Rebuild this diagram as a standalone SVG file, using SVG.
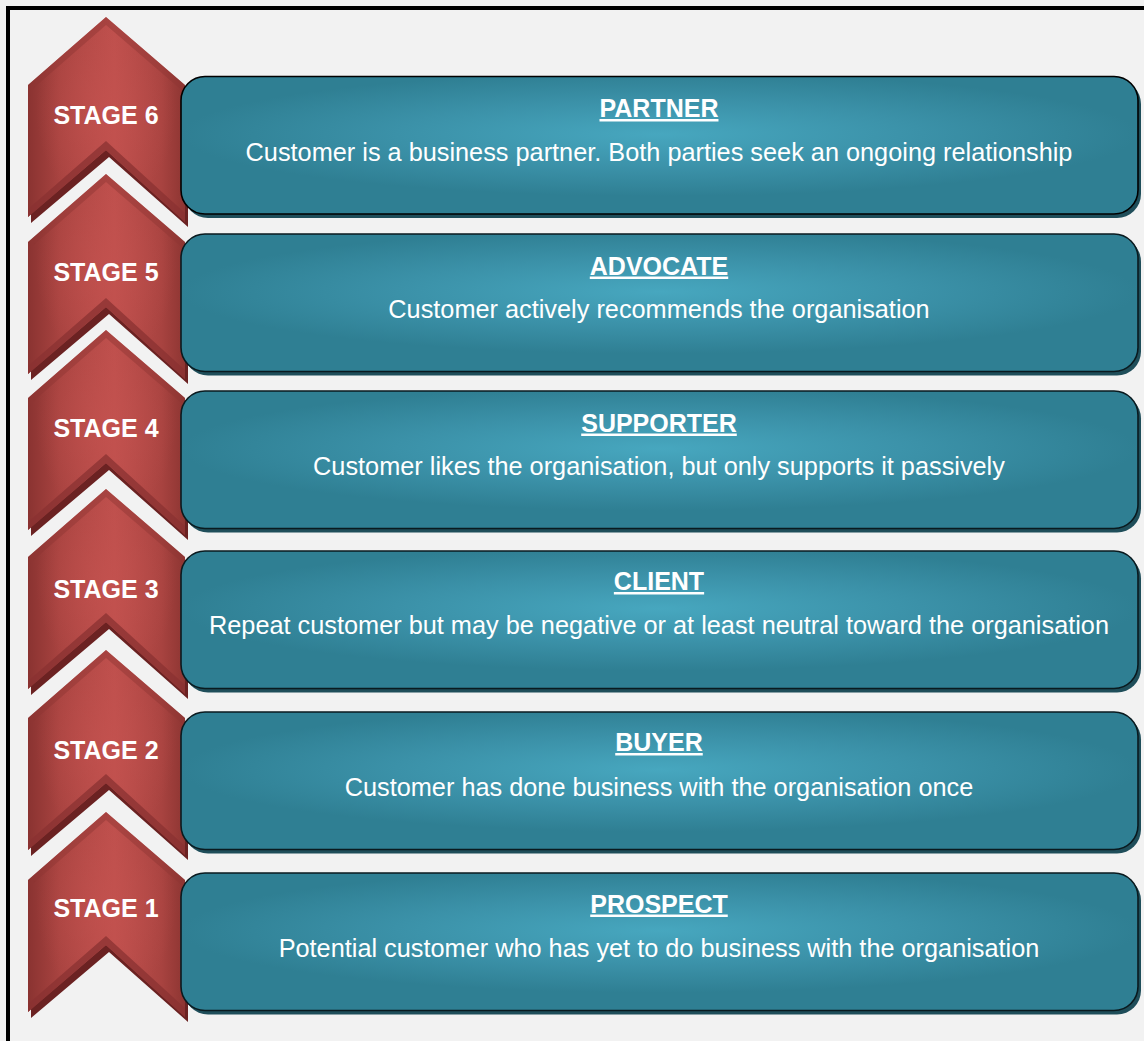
<svg xmlns="http://www.w3.org/2000/svg" width="1144" height="1041" viewBox="0 0 1144 1041">
<defs>
<linearGradient id="chevH" x1="28" y1="0" x2="185" y2="0" gradientUnits="userSpaceOnUse">
<stop offset="0" stop-color="#8a3331"/>
<stop offset="0.2" stop-color="#a84340"/>
<stop offset="0.55" stop-color="#bf504d"/>
<stop offset="0.85" stop-color="#a84340"/>
<stop offset="1" stop-color="#8d3532"/>
</linearGradient>
<radialGradient id="chevR" cx="106" cy="110" r="70" gradientUnits="userSpaceOnUse" gradientTransform="translate(106 110) scale(1 1.4) translate(-106 -110)">
<stop offset="0" stop-color="#c4524f" stop-opacity="0.7"/>
<stop offset="1" stop-color="#c4524f" stop-opacity="0"/>
</radialGradient>
<radialGradient id="boxG" cx="0.5" cy="0.42" r="0.5" gradientTransform="translate(0.5 0.42) scale(1 0.9) translate(-0.5 -0.42)">
<stop offset="0" stop-color="#47a7bf"/>
<stop offset="0.55" stop-color="#3b91a8"/>
<stop offset="1" stop-color="#2f7f93"/>
</radialGradient>
<g id="chev">
<polygon points="31,90 109,22 188,90 188,227 109,157 31,223" fill="#6b2222"/>
<polygon points="28,85 106,17 185,85 185,222 106,150 28,217" fill="url(#chevH)"/>
<polygon points="28,85 106,17 185,85 185,222 106,150 28,217" fill="url(#chevR)"/>
<polygon points="28,85 106,17 185,85 185,93 106,25 28,93" fill="#8e3634" opacity="0.45"/>
<polygon points="28,209 106,141 185,213 185,222 106,150 28,217" fill="#8a3231" opacity="0.75"/>
</g>
<style>
.st{font-family:"Liberation Sans",Arial,sans-serif;font-weight:bold;font-size:25px;fill:#ffffff;text-anchor:middle}
.tt{font-family:"Liberation Sans",Arial,sans-serif;font-weight:bold;font-size:25px;fill:#ffffff;text-anchor:middle;text-decoration:underline}
.bd{font-family:"Liberation Sans",Arial,sans-serif;font-size:25.3px;fill:#ffffff;text-anchor:middle}
.box{fill:url(#boxG);stroke:#0a1a1f;stroke-width:1.6}
.sh{fill:#1f4e5a}
</style>
</defs>
<rect x="0" y="0" width="1144" height="1041" fill="#f2f2f2"/>
<rect x="6" y="6" width="1138" height="4" fill="#000"/>
<rect x="6" y="6" width="4" height="1035" fill="#000"/>

<g id="stage6">
<use href="#chev"/>
<text class="st" x="106" y="124">STAGE 6</text>
<rect class="sh" x="184" y="80" width="957" height="138" rx="24"/>
<rect class="box" x="181" y="76.5" width="957" height="137.5" rx="24" stroke-width="2.4" style="stroke:#000"/>
<text class="tt" x="659" y="117">PARTNER</text>
<text class="bd" x="659" y="161">Customer is a business partner. Both parties seek an ongoing relationship</text>
</g>

<g id="stage5">
<use href="#chev" transform="translate(0 157)"/>
<text class="st" x="106" y="281">STAGE 5</text>
<rect class="sh" x="184" y="237.5" width="957" height="138" rx="24"/>
<rect class="box" x="181" y="234" width="957" height="137.5" rx="24"/>
<text class="tt" x="659" y="274.5">ADVOCATE</text>
<text class="bd" x="659" y="318">Customer actively recommends the organisation</text>
</g>

<g id="stage4">
<use href="#chev" transform="translate(0 313)"/>
<text class="st" x="106" y="437">STAGE 4</text>
<rect class="sh" x="184" y="394.5" width="957" height="138" rx="24"/>
<rect class="box" x="181" y="391" width="957" height="137.5" rx="24"/>
<text class="tt" x="659" y="431.5">SUPPORTER</text>
<text class="bd" x="659" y="475">Customer likes the organisation, but only supports it passively</text>
</g>

<g id="stage3">
<use href="#chev" transform="translate(0 472)"/>
<text class="st" x="106" y="598">STAGE 3</text>
<rect class="sh" x="184" y="554.5" width="957" height="138" rx="24"/>
<rect class="box" x="181" y="551" width="957" height="137.5" rx="24"/>
<text class="tt" x="659" y="590">CLIENT</text>
<text class="bd" x="659" y="634">Repeat customer but may be negative or at least neutral toward the organisation</text>
</g>

<g id="stage2">
<use href="#chev" transform="translate(0 633)"/>
<text class="st" x="106" y="759">STAGE 2</text>
<rect class="sh" x="184" y="715.5" width="957" height="138" rx="24"/>
<rect class="box" x="181" y="712" width="957" height="137.5" rx="24"/>
<text class="tt" x="659" y="751">BUYER</text>
<text class="bd" x="659" y="795.5">Customer has done business with the organisation once</text>
</g>

<g id="stage1">
<use href="#chev" transform="translate(0 795)"/>
<text class="st" x="106" y="917">STAGE 1</text>
<rect class="sh" x="184" y="876.5" width="957" height="138" rx="24"/>
<rect class="box" x="181" y="873" width="957" height="137.5" rx="24"/>
<text class="tt" x="659" y="912.5">PROSPECT</text>
<text class="bd" x="659" y="956.5">Potential customer who has yet to do business with the organisation</text>
</g>

<g id="connectors"/>
</svg>
